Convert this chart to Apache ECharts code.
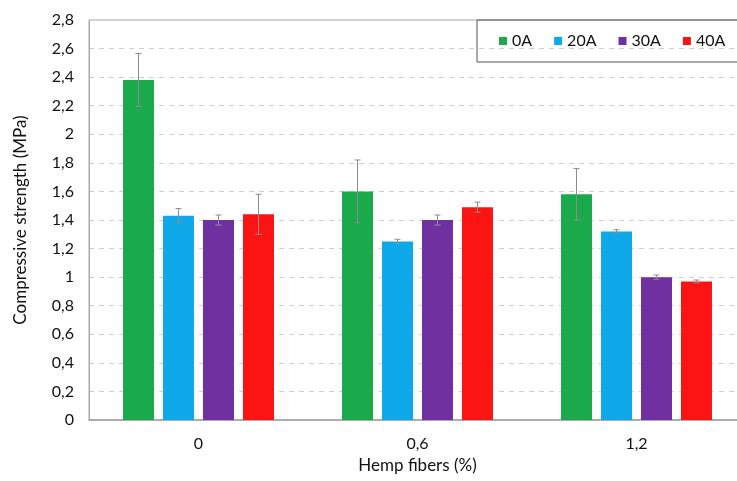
<!DOCTYPE html>
<html>
<head>
<meta charset="utf-8">
<script src="https://cdn.jsdelivr.net/npm/echarts@6/dist/echarts.min.js"></script>
<style>
html,body{margin:0;padding:0;background:#fff;}
#c{width:737px;height:481px;}
</style>
</head>
<body>
<div id="c"></div>
<script>
const categories = ['0', '0,6', '1,2'];
const seriesNames = ['0A', '20A', '30A', '40A'];
const values0A = [2.38, 1.60, 1.58];
const values20A = [1.43, 1.25, 1.32];
const values30A = [1.40, 1.40, 1.00];
const values40A = [1.44, 1.49, 0.97];
const err0A = [0.185, 0.22, 0.18];
const err20A = [0.05, 0.015, 0.012];
const err30A = [0.035, 0.035, 0.015];
const err40A = [0.14, 0.035, 0.01];

const allValues = [values0A, values20A, values30A, values40A];
const allErrs = [err0A, err20A, err30A, err40A];
const colors = ['#1aaa4c', '#0fa8e8', '#7030a0', '#fb1414'];
const FONT = 'Lato';
const TXT = '#111';
const BAR_W = 31, BAR_STEP = 40;

const chart = echarts.init(document.getElementById('c'), null, {renderer: 'canvas'});

const barSeries = seriesNames.map((n, i) => ({
  name: n,
  type: 'bar',
  data: allValues[i],
  barWidth: BAR_W,
  barGap: '29%',
  itemStyle: {color: colors[i]},
  emphasis: {disabled: true}
}));

const errSeries = allValues.map((vals, i) => ({
  type: 'custom',
  silent: true,
  z: 10,
  data: vals.map((v, k) => [k, v, allErrs[i][k]]),
  encode: {x: 0, y: 1},
  renderItem: function (params, api) {
    const x = api.value(0), v = api.value(1), e = api.value(2);
    const top = api.coord([x, v + e]);
    const bot = api.coord([x, v - e]);
    const cx = top[0] + (i - 1.5) * BAR_STEP;
    const hw = 3;
    const st = {stroke: '#8c8c8c', lineWidth: 1};
    return {
      type: 'group',
      children: [
        {type: 'line', shape: {x1: cx, y1: top[1], x2: cx, y2: bot[1]}, style: st},
        {type: 'line', shape: {x1: cx - hw, y1: top[1], x2: cx + hw, y2: top[1]}, style: st},
        {type: 'line', shape: {x1: cx - hw, y1: bot[1], x2: cx + hw, y2: bot[1]}, style: st}
      ]
    };
  }
}));

chart.setOption({
  animation: false,
  textStyle: {fontFamily: FONT},
  grid: {left: 89, top: 20, width: 657, height: 400, outerBoundsMode: 'none', containLabel: false,
         show: true, borderColor: '#a8a8a8', borderWidth: 1},
  legend: {
    data: seriesNames,
    left: 477, top: 20, width: 400,
    padding: [13, 40, 13, 22],
    borderColor: '#555', borderWidth: 1,
    itemWidth: 8, itemHeight: 8, itemGap: 22,
    icon: 'rect',
    textStyle: {fontFamily: FONT, fontSize: 16, color: TXT}
  },
  xAxis: {
    type: 'category',
    data: categories,
    name: 'Hemp fibers (%)',
    nameLocation: 'middle',
    nameGap: 37,
    nameTextStyle: {fontFamily: FONT, fontSize: 17, color: TXT},
    axisLine: {lineStyle: {color: '#a0a0a0', width: 1.5}},
    axisTick: {show: false},
    axisLabel: {fontFamily: FONT, fontSize: 16, color: TXT, margin: 16}
  },
  yAxis: {
    type: 'value',
    min: 0, max: 2.8, interval: 0.2,
    name: 'Compressive strength (MPa)',
    nameLocation: 'middle',
    nameGap: 60,
    nameTextStyle: {fontFamily: FONT, fontSize: 17, color: TXT},
    axisLine: {show: true, lineStyle: {color: '#a8a8a8'}},
    axisTick: {show: false},
    axisLabel: {
      fontFamily: FONT, fontSize: 16, color: TXT, margin: 15,
      formatter: v => String(Math.round(v * 10) / 10).replace('.', ',')
    },
    splitLine: {show: true, lineStyle: {color: '#cfcfcf', type: [5, 5], width: 1}}
  },
  series: barSeries.concat(errSeries)
});
</script>
</body>
</html>
